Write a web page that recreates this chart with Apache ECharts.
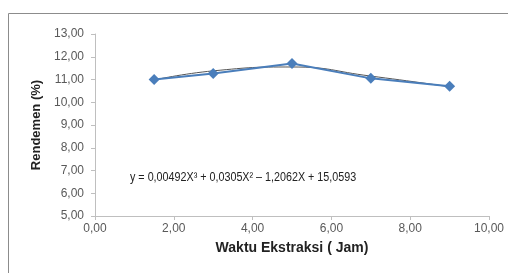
<!DOCTYPE html>
<html lang="en">
<head>
    <meta charset="UTF-8">
    <title>Rendemen</title>
</head>
<script src="https://cdn.jsdelivr.net/npm/echarts@6/dist/echarts.min.js"></script>
<style>
    *{
        margin: 0;
        padding: 0;
    }
    body,html{
        width: 100%;
        height: 100%;
        overflow: hidden;
        background: #fff;
    }
    .box{
        width: 508px;
        height: 273px;
    }
</style>
<body>
<div class="box"></div>
<script>
    // measured points
    let waktu = [1.5, 3, 5, 7, 9];
    let rendemen = [11.0, 11.26, 11.7, 11.05, 10.7];
    // trend line
    let trendX = [1.5, 3, 5, 7, 9];
    let trendY = [10.98, 11.38, 11.55, 11.15, 10.68];
    let equation = 'y = 0,00492X³ + 0,0305X² – 1,2062X + 15,0593';

    let myChart = echarts.init(document.querySelector('.box'));

    let fmt = v => v.toFixed(2).replace('.', ',');
    let font = '"Liberation Sans Narrow", "Liberation Sans", Arial, sans-serif';

    let option = {
        animation: false,
        grid: {left: 95, top: 34, right: 19, bottom: 57},
        xAxis: {
            type: 'value',
            min: 0, max: 10, interval: 2,
            name: 'Waktu Ekstraksi ( Jam)',
            nameLocation: 'middle',
            nameGap: 25,
            nameTextStyle: {fontFamily: font, fontWeight: 'bold', fontSize: 14, color: '#222'},
            axisLine: {lineStyle: {color: '#bfbfbf'}},
            axisTick: {show: true, length: 4, lineStyle: {color: '#bfbfbf'}},
            axisLabel: {formatter: fmt, color: '#595959', fontFamily: font, fontSize: 12, margin: 7},
            splitLine: {show: false}
        },
        yAxis: {
            type: 'value',
            min: 5, max: 13, interval: 1,
            name: 'Rendemen (%)',
            nameLocation: 'middle',
            nameGap: 52,
            nameTextStyle: {fontFamily: font, fontWeight: 'bold', fontSize: 13, color: '#222'},
            axisLine: {show: true, lineStyle: {color: '#bfbfbf'}},
            axisTick: {show: true, length: 4, lineStyle: {color: '#bfbfbf'}},
            axisLabel: {formatter: fmt, color: '#595959', fontFamily: font, fontSize: 12, margin: 11},
            splitLine: {show: false}
        },
        graphic: [
            {
                type: 'rect',
                shape: {x: 8.5, y: 13.5, width: 520, height: 280},
                style: {fill: 'none', stroke: '#8c8c8c', lineWidth: 1},
                silent: true
            },
            {
                type: 'text',
                x: 130,
                y: 171,
                scaleX: 0.86,
                style: {text: equation, fontFamily: font, fontSize: 12.5, fill: '#222'}
            }
        ],
        series: [
            {
                name: 'trend',
                type: 'line',
                data: trendX.map((x, i) => [x, trendY[i]]),
                smooth: 0.5,
                showSymbol: false,
                lineStyle: {color: '#555', width: 1},
                z: 1
            },
            {
                name: 'rendemen',
                type: 'line',
                data: waktu.map((x, i) => [x, rendemen[i]]),
                symbol: 'diamond',
                symbolSize: 11,
                itemStyle: {color: '#4a7ebb'},
                lineStyle: {color: '#4a7ebb', width: 2},
                z: 2
            }
        ]
    };

    myChart.setOption(option);
</script>
</body>
</html>
